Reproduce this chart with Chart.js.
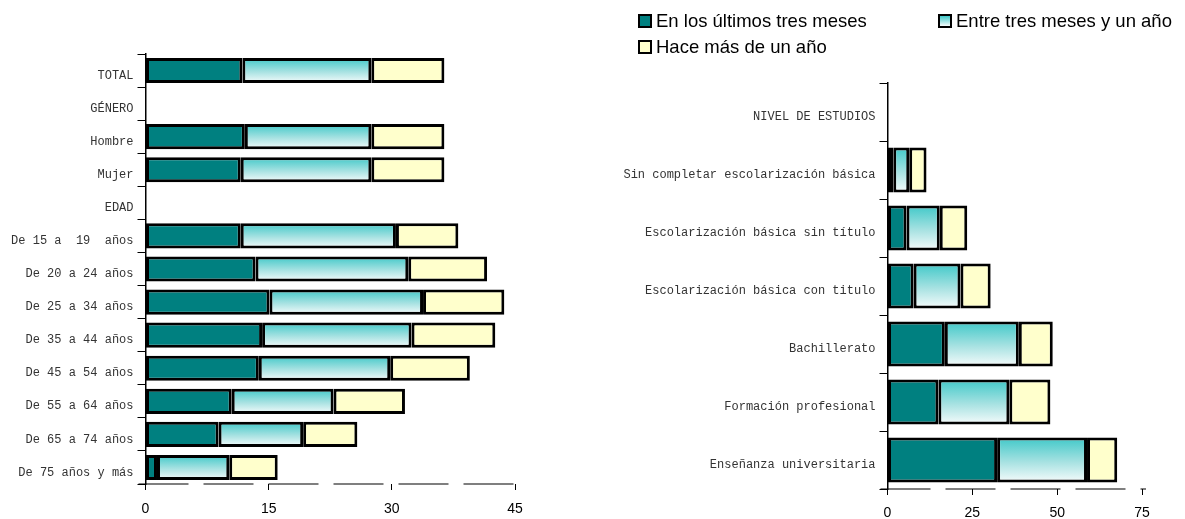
<!DOCTYPE html>
<html lang="es">
<head>
<meta charset="UTF-8">
<script src="https://cdn.jsdelivr.net/npm/chart.js@4.4.0/dist/chart.umd.min.js"></script>
<title>Periodicidad</title>
<style>
  body { margin: 0; background: #fff; width: 1185px; height: 519px; position: relative; overflow: hidden; }
  #left { position: absolute; left: 0; top: 0; }
  #right { position: absolute; left: 590px; top: 0; }
  .leg { position: absolute; font: 18.5px 'Liberation Sans', Arial, sans-serif; color: #000; display: flex; align-items: center; white-space: nowrap; }
  .leg .box { width: 10px; height: 10px; border: 2px solid #000; margin-right: 4px; }
</style>
</head>
<body>
<canvas id="left" width="590" height="519"></canvas>
<canvas id="right" width="595" height="519"></canvas>
<div id="legend"></div>
<script>
const series = ['En los últimos tres meses', 'Entre tres meses y un año', 'Hace más de un año'];

const leftLabels = ['TOTAL', 'GÉNERO', 'Hombre', 'Mujer', 'EDAD', 'De 15 a  19  años', 'De 20 a 24 años',
  'De 25 a 34 años', 'De 35 a 44 años', 'De 45 a 54 años', 'De 55 a 64 años', 'De 65 a 74 años', 'De 75 años y más'];
const leftRecent = [11.8, null, 12.1, 11.6, null, 11.6, 13.4, 15.1, 14.2, 13.8, 10.5, 8.9, 1.4];
const leftMid    = [15.7, null, 15.4, 15.9, null, 18.9, 18.6, 18.7, 18.2, 16.0, 12.4, 10.3, 8.8];
const leftOld    = [8.9, null, 8.9, 8.9, null, 7.6, 9.6, 9.9, 10.2, 9.7, 8.7, 6.6, 5.9];
const leftTicks = [0, 15, 30, 45];

const rightLabels = ['NIVEL DE ESTUDIOS', 'Sin completar escolarización básica', 'Escolarización básica sin título',
  'Escolarización básica con titulo', 'Bachillerato', 'Formación profesional', 'Enseñanza universitaria'];
const rightRecent = [null, 1.7, 5.6, 7.7, 16.9, 15.0, 32.3];
const rightMid    = [null, 4.7, 9.8, 13.8, 21.8, 20.9, 26.5];
const rightOld    = [null, 5.1, 8.1, 8.9, 10.0, 12.1, 8.9];
const rightTicks = [0, 25, 50, 75];

const teal = '#008080';
const yellow = '#ffffcc';

// vertical cyan -> white gradient per bar
function midFill(pct) {
  return function (ctx) {
    const chart = ctx.chart;
    const area = chart.chartArea;
    if (!area || ctx.type !== 'data') return '#8fdada';
    const c = chart.scales.y.getPixelForValue(ctx.dataIndex);
    const h = (area.bottom - area.top) / chart.data.labels.length * pct / 2;
    const g = chart.ctx.createLinearGradient(0, c - h, 0, c + h);
    g.addColorStop(0, '#3fc8c8');
    g.addColorStop(0.55, '#a8e2e2');
    g.addColorStop(1, '#f7fcfc');
    return g;
  };
}

// dashed bottom axis line
const dashedAxis = {
  id: 'dashedAxis',
  afterDraw(chart) {
    const { ctx, chartArea } = chart;
    ctx.save();
    ctx.strokeStyle = '#000';
    ctx.lineWidth = 1.2;
    ctx.setLineDash([50, 15]);
    ctx.beginPath();
    ctx.moveTo(chartArea.left - 7, chartArea.bottom);
    ctx.lineTo(chartArea.right + 4, chartArea.bottom);
    ctx.stroke();
    ctx.restore();
  }
};

function makeChart(id, labels, recent, mid, old, ticks, pct, pad, yWidth, xHeight, xPad) {
  const max = ticks[ticks.length - 1];
  return new Chart(document.getElementById(id), {
    type: 'bar',
    data: {
      labels: labels,
      datasets: [
        { label: series[0], data: recent, backgroundColor: teal },
        { label: series[1], data: mid, backgroundColor: midFill(pct) },
        { label: series[2], data: old, backgroundColor: yellow }
      ].map(d => Object.assign(d, { borderColor: '#000', borderWidth: 3, borderSkipped: false,
        categoryPercentage: pct, barPercentage: 1 }))
    },
    options: {
      indexAxis: 'y',
      responsive: false,
      animation: false,
      layout: { padding: pad },
      plugins: { legend: { display: false }, tooltip: { enabled: false } },
      scales: {
        x: {
          stacked: true,
          min: 0,
          max: max,
          afterBuildTicks: s => { s.ticks = ticks.map(v => ({ value: v })); },
          afterFit: s => { s.height = xHeight; },
          border: { display: false },
          grid: { drawOnChartArea: false, drawTicks: true, tickLength: 6, color: '#000' },
          ticks: { color: '#000', padding: xPad, font: { family: "'Liberation Sans', Arial, sans-serif", size: 14 } }
        },
        y: {
          stacked: true,
          afterFit: s => { s.width = yWidth; },
          border: { display: true, color: '#000', width: 1.5 },
          grid: { drawOnChartArea: false, drawTicks: true, tickLength: 8, color: '#000', offset: true },
          ticks: { color: '#333', padding: 4, labelOffset: 5, font: { family: "'Liberation Mono', monospace", size: 12 } }
        }
      }
    },
    plugins: [dashedAxis]
  });
}

makeChart('left', leftLabels, leftRecent, leftMid, leftOld, leftTicks, 0.76,
  { top: 54, right: 75, left: 0, bottom: 0 }, 145.5, 35, 11);
makeChart('right', rightLabels, rightRecent, rightMid, rightOld, rightTicks, 0.78,
  { top: 83, right: 43, left: 0, bottom: 0 }, 297.5, 30, 10);

// legend
const legPos = [[638, 21], [938, 21], [638, 47]];
const legFill = [teal, 'linear-gradient(#3fc8c8, #f7fcfc)', yellow];
const legend = document.getElementById('legend');
series.forEach((name, i) => {
  const d = document.createElement('div');
  d.className = 'leg';
  d.style.left = legPos[i][0] + 'px';
  d.style.top = (legPos[i][1] - 11) + 'px';
  d.innerHTML = '<span class="box" style="background:' + legFill[i] + '"></span>' + name;
  legend.appendChild(d);
});
</script>
</body>
</html>
